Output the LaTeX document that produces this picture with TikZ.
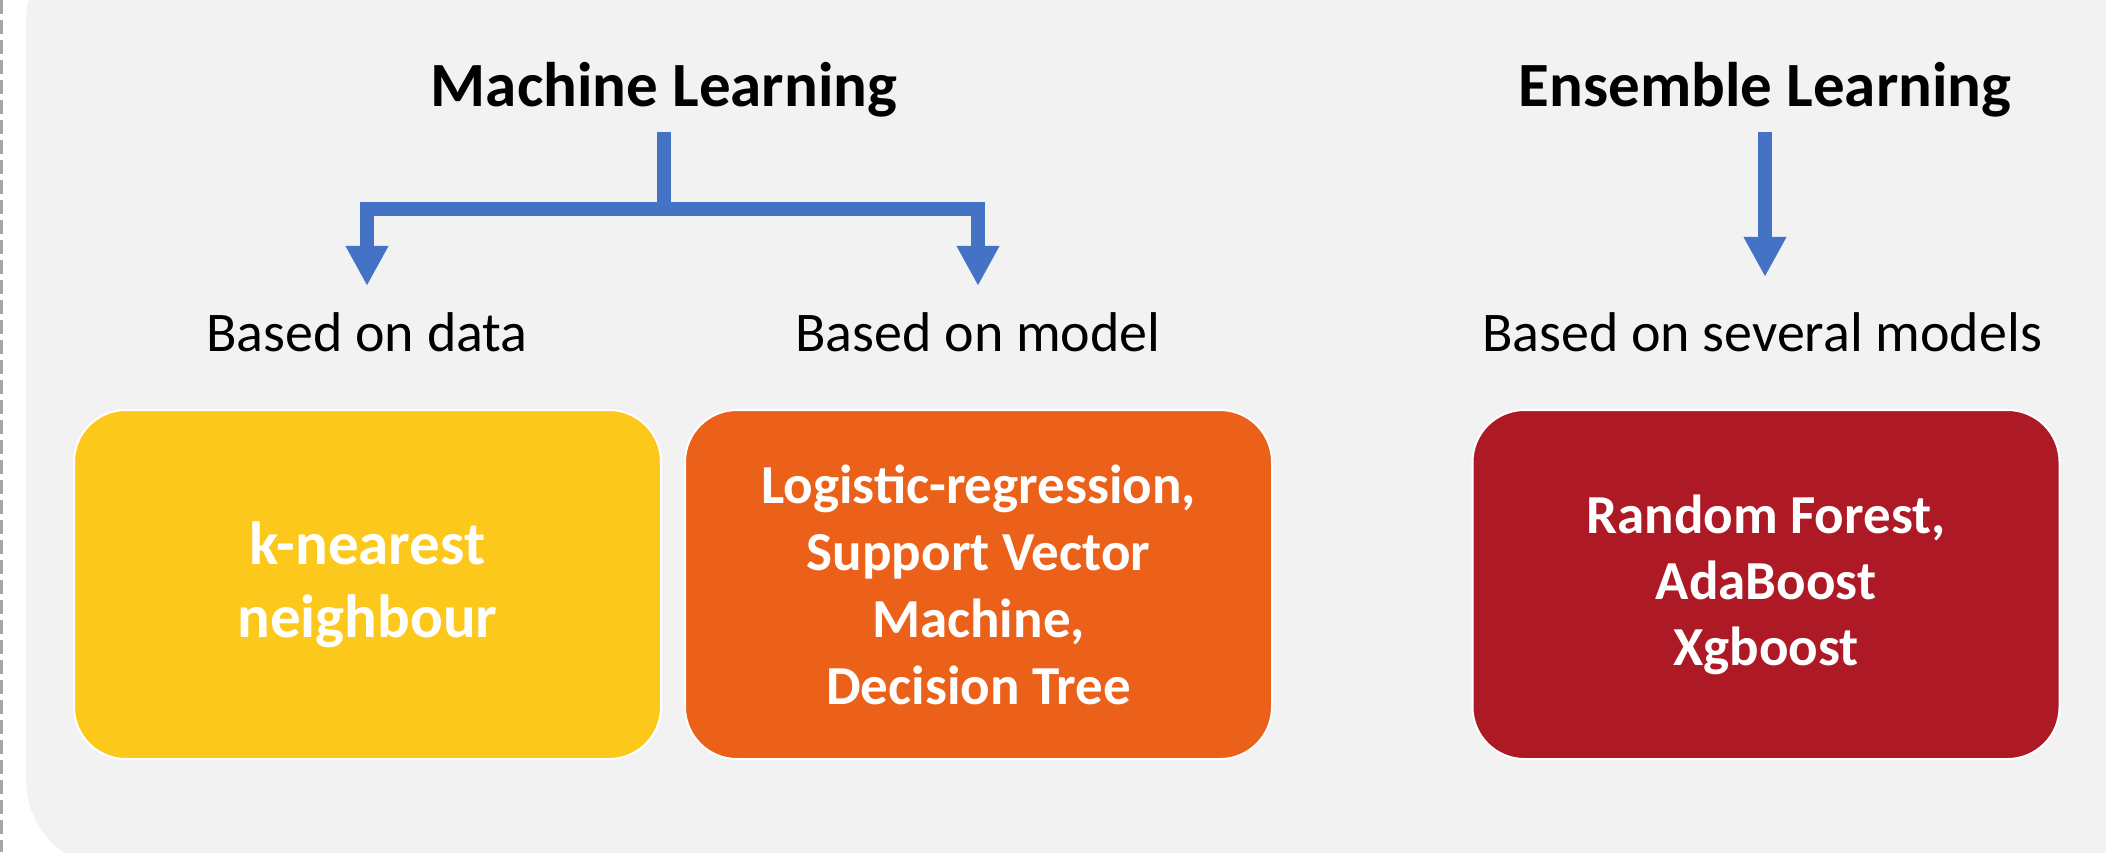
\documentclass[tikz,border=0pt]{standalone}
\usepackage{fontspec}
\setmainfont{Carlito}
\usetikzlibrary{arrows.meta}

\definecolor{panelgray}{HTML}{F2F2F2}
\definecolor{framegray}{HTML}{A6A6A6}
\definecolor{flowblue}{HTML}{4472C4}
\definecolor{knnyellow}{HTML}{FBC81B}
\definecolor{modelorange}{HTML}{EC611A}
\definecolor{ensred}{HTML}{AD1A25}

\begin{document}
\begin{tikzpicture}[x=1pt, y=-1pt, >={Triangle[width=40pt, length=40pt]},
  title/.style={font=\fontsize{63}{76}\selectfont\bfseries, inner xsep=0pt, inner ysep=15pt},
  basis/.style={font=\fontsize{56}{68}\selectfont, inner xsep=0pt, inner ysep=26pt},
  flow/.style={draw=flowblue, line width=14pt},
  algobox/.style={rounded corners=52pt, draw=white, line width=2pt, text=white,
    minimum width=587pt, minimum height=349pt, align=center,
    font=\fontsize{55}{67}\selectfont\bfseries}]

  % --- column positions ---
  \def\xdata{367}
  \def\xml{664}
  \def\xmodel{978}
  \def\xens{1765}

  \useasboundingbox (0,0) rectangle (2106,852);
  \clip (0,0) rectangle (2106,852);

  % --- background panel ---
  \draw[framegray, line width=3pt, dash pattern=on 14pt off 6pt] (1.5,0) -- (1.5,852);
  \fill[panelgray, rounded corners=88pt] (26,-68) rectangle (2200,868);

  % ============================================================
  % Headings
  % ============================================================
  \node[title, anchor=base] (mltitle) at (\xml,106) {Machine Learning};
  \node[title, anchor=base] (enstitle) at (\xens,106) {Ensemble Learning};

  \node[basis, anchor=base] (datalbl) at (\xdata,351) {Based on data};
  \node[basis, anchor=base] (modellbl) at (\xmodel,351) {Based on model};
  \node[basis, anchor=base] (severallbl) at (1762,351) {Based on several models};

  % ============================================================
  % Arrows
  % ============================================================
  \coordinate (mlfork) at (\xml,209);
  \draw[flow] (mltitle.south) -- (mlfork);
  \draw[flow, ->] (mlfork) -| (datalbl.north);
  \draw[flow, ->] (mlfork) -| (modellbl.north);
  \draw[flow, ->, shorten >=9pt] (enstitle.south) -- (enstitle.south |- severallbl.north);

  % ============================================================
  % Algorithm boxes
  % ============================================================
  \node[algobox, fill=knnyellow, font=\fontsize{61}{73}\selectfont\bfseries] (knnbox) at (367.5,584.5) {k-nearest\\neighbour};
  \node[algobox, fill=modelorange] (modelbox) at (978.5,584.5) {Logistic-regression,\\Support Vector\\Machine,\\Decision Tree};
  \node[algobox, fill=ensred, font=\fontsize{55}{66}\selectfont\bfseries] (ensbox) at (1766,584.5) {Random Forest,\\AdaBoost\\Xgboost};

\end{tikzpicture}
\end{document}
